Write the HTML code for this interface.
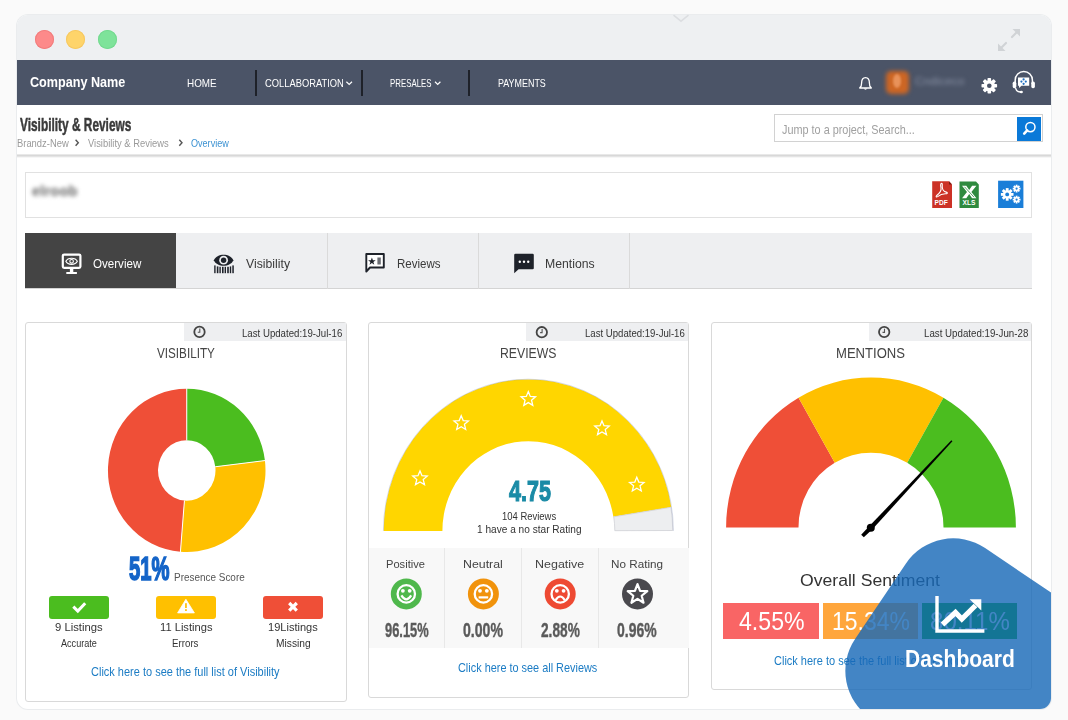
<!DOCTYPE html>
<html><head><meta charset="utf-8"><title>Visibility &amp; Reviews</title>
<style>
*{box-sizing:border-box;margin:0;padding:0}
html,body{width:1068px;height:720px;overflow:hidden;background:#fafafa;font-family:"Liberation Sans",Arial,sans-serif;color:#333;position:relative}
.a{position:absolute}
.t{position:absolute;line-height:1;white-space:nowrap;transform-origin:0 0;font-family:"Liberation Sans",Arial,sans-serif}
#win{position:absolute;left:17px;top:15px;width:1034px;height:694px;border-radius:11px;overflow:hidden;background:#fff;box-shadow:0 0 0 1px #eaecee}
.dot{position:absolute;width:19px;height:19px;border-radius:50%}
.sep{position:absolute;top:70px;width:2px;height:26px;background:#1e2129}
.card{position:absolute;background:#fff;border:1px solid #d9d9d9;border-radius:3px}
.strip{position:absolute;top:323px;height:18px;background:#eeeff1}
.btn{position:absolute;top:596px;width:60px;height:22.5px;border-radius:3px}
.tabsep{position:absolute;top:233px;width:1px;height:56px;background:#dadada}
.vsep{position:absolute;top:548px;width:1px;height:100px;background:#e8e8e8}
.pb{position:absolute;top:603px;width:95px;height:36px}
svg{position:absolute;overflow:visible}
</style></head><body>
<div id="win">
  <div class="a" style="left:0;top:0;width:100%;height:45px;background:#eef0f2"></div>
  <div class="dot" style="left:17.5px;top:14.5px;background:#fd8a8a;box-shadow:inset 0 0 0 1px #f17d7d"></div>
  <div class="dot" style="left:48.5px;top:14.5px;background:#fed46a;box-shadow:inset 0 0 0 1px #f6c862"></div>
  <div class="dot" style="left:80.5px;top:14.5px;background:#7ee39a;box-shadow:inset 0 0 0 1px #74d990"></div>
  <div class="a" style="left:0;top:139px;width:100%;height:4px;background:linear-gradient(#e8e8e8 0 25%,#d8d8d8 25% 50%,#e4e4e4 50% 75%,#f6f6f6 75%)"></div>
</div>
<svg style="left:668px;top:14px" width="26" height="12" viewBox="668 14 26 12"><path d="M673.5,15.2 L681,21.2 L688.5,15.2" fill="none" stroke="#dcdee1" stroke-width="1.5"/></svg>
<!-- title bar expand icon -->
<svg style="left:995px;top:26px" width="28" height="28" viewBox="0 0 28 28">
  <g stroke="#d0d3d6" stroke-width="2.2" fill="none" stroke-linecap="round">
    <path d="M5,23 L11,17"/><path d="M17,11 L23,5"/>
  </g>
  <path d="M3,25 L3,17.5 L10.5,25 Z" fill="#d0d3d6"/>
  <path d="M25,3 L25,10.5 L17.5,3 Z" fill="#d0d3d6"/>
</svg>
<!-- nav -->
<div class="a" style="left:17px;top:60px;width:1034px;height:45px;background:#4b5467"></div>
<div class="sep" style="left:254.5px"></div>
<div class="sep" style="left:361.2px"></div>
<div class="sep" style="left:468px"></div>
<svg style="left:0;top:0" width="1068" height="120" viewBox="0 0 1068 120">
  <g stroke="#fff" stroke-width="1.2" fill="none">
    <path d="M346.4,81.8 L349.2,84.4 L352,81.8"/>
    <path d="M435,81.8 L437.7,84.4 L440.4,81.8"/>
  </g>
  <!-- bell -->
  <path d="M865.5,77.6 C862.3,77.6 861.6,80.5 861.6,83 L861.2,86 L859.7,88 L871.3,88 L869.8,86 L869.4,83 C869.4,80.5 868.7,77.6 865.5,77.6 Z" fill="none" stroke="#fff" stroke-width="1.3" stroke-linejoin="round"/>
  <path d="M863.8,88.6 A1.8,1.6 0 0 0 867.2,88.6 Z" fill="#fff"/>
  <!-- gear -->
  <g transform="translate(989.3,85.8)">
    <g fill="#fff">
      <circle r="5.6"/>
      <rect x="-1.8" y="-7.8" width="3.6" height="15.6" rx="0.8"/>
      <rect x="-1.8" y="-7.8" width="3.6" height="15.6" rx="0.8" transform="rotate(45)"/>
      <rect x="-1.8" y="-7.8" width="3.6" height="15.6" rx="0.8" transform="rotate(90)"/>
      <rect x="-1.8" y="-7.8" width="3.6" height="15.6" rx="0.8" transform="rotate(135)"/>
    </g>
    <circle r="2.3" fill="#4b5467"/>
  </g>
  <!-- headset -->
  <g>
    <path d="M1015.2,84 L1015.2,80 A8.6,8.6 0 0 1 1032.4,80 L1032.4,84" fill="none" stroke="#fff" stroke-width="1.5"/>
    <rect x="1012.7" y="81.6" width="3.6" height="6.6" rx="1.6" fill="#fff"/>
    <rect x="1031.3" y="81.6" width="3.6" height="6.6" rx="1.6" fill="#fff"/>
    <path d="M1015.5,88 Q1016.5,92 1020.5,92" fill="none" stroke="#fff" stroke-width="1.3"/>
    <ellipse cx="1021.3" cy="92" rx="1.6" ry="1.2" fill="#fff"/>
    <path d="M1018,77.6 L1029.2,77.6 L1029.2,85.8 L1021.5,85.8 L1019,88 L1019,85.8 L1018,85.8 Z" fill="#fff"/>
    <g fill="#1f6fc0"><circle cx="1023.6" cy="79.4" r="1.1"/><circle cx="1021.4" cy="81.6" r="1.1"/><circle cx="1025.8" cy="81.6" r="1.1"/><circle cx="1023.6" cy="83.8" r="1.1"/></g>
  </g>
</svg>
<!-- avatar & blurred user name -->
<div class="a" style="left:885.5px;top:71px;width:23.5px;height:23px;background:#cd6624;border-radius:5px;filter:blur(2.2px)"></div>
<div class="a" style="left:892.8px;top:74px;width:8.6px;height:14px;background:#e8925a;border-radius:50%;filter:blur(1px)"></div>
<div class="a" style="left:915px;top:75.5px;font-size:11.5px;color:#8a93a6;filter:blur(2.2px);line-height:1;letter-spacing:0.2px">Cndiceco</div>
<!-- header -->
<div class="a" style="left:773.5px;top:114.4px;width:269.6px;height:27.8px;border:1px solid #d2d2d2;background:#fff"></div>
<div class="a" style="left:1016.6px;top:116.8px;width:24.7px;height:23.9px;background:#0a79d8"></div>
<svg style="left:1016px;top:116px" width="26" height="25" viewBox="1016 116 26 25">
  <circle cx="1030.4" cy="127.1" r="4.6" fill="none" stroke="#fff" stroke-width="1.5"/>
  <path d="M1027.2,130.4 L1024.2,133.6" stroke="#fff" stroke-width="2.6" stroke-linecap="round"/>
</svg>
<svg style="left:0;top:0" width="300" height="160" viewBox="0 0 300 160">
  <g stroke="#555" stroke-width="1.4" fill="none"><path d="M75.6,139.8 L78.3,142.8 L75.6,145.8"/><path d="M179.3,139.8 L182,142.8 L179.3,145.8"/></g>
</svg>
<!-- client box -->
<div class="a" style="left:25px;top:172px;width:1007px;height:46px;border:1px solid #e1e1e1;background:#fff"></div>
<div class="a" style="left:32px;top:184px;font-size:14.5px;font-weight:bold;color:#666;filter:blur(2.2px);line-height:1;letter-spacing:0.2px">elroob</div>
<svg style="left:925px;top:175px" width="110" height="40" viewBox="925 175 110 40">
  <!-- PDF -->
  <path d="M932.2,181.2 L949,181.2 L952,184.4 L952,208 L932.2,208 Z" fill="#cc3226"/>
  <path d="M949,181.2 L952,184.4 L949,184.4 Z" fill="#7a1a12"/>
  <path d="M941.6,183.4 C940.4,183.4 940.5,185.6 941,187.6 C941.5,190.2 939.6,193.2 937,195.3 C935.5,196.5 936.1,197.7 937.6,196.6 C939.6,195 942.6,193.8 945.3,193.8 C947.5,193.8 948.1,192.6 946.2,192.1 C944,191.6 942.5,189.8 942.3,187.2 C942.1,185.1 942.7,183.4 941.6,183.4 Z" fill="none" stroke="#fff" stroke-width="1.1"/>
  <!-- XLS -->
  <path d="M959.5,181.5 L976,181.5 L978.8,184.4 L978.8,208 L959.5,208 Z" fill="#2f8a3f"/>
  <path d="M962,185.8 L966.3,185.8 L969.2,190 L972.1,185.8 L976.4,185.8 L971.4,192 L976.4,198.2 L972.1,198.2 L969.2,194 L966.3,198.2 L962,198.2 L967,192 Z" fill="#fff"/>
  <path d="M964.5,186.8 L974,197.2" stroke="#2f8a3f" stroke-width="0.8"/>
  <!-- gear box -->
  <rect x="998.1" y="180.7" width="25.3" height="27.3" fill="#1a7ed8"/>
  <g fill="#fff" transform="translate(1007.2,194.4)">
    <circle r="4.2"/>
    <rect x="-1.4" y="-6.3" width="2.8" height="12.6"/><rect x="-1.4" y="-6.3" width="2.8" height="12.6" transform="rotate(45)"/>
    <rect x="-1.4" y="-6.3" width="2.8" height="12.6" transform="rotate(90)"/><rect x="-1.4" y="-6.3" width="2.8" height="12.6" transform="rotate(135)"/>
  </g>
  <circle cx="1007.2" cy="194.4" r="1.9" fill="#1a7ed8"/>
  <g fill="#fff" transform="translate(1016.6,188.6)">
    <circle r="2.6"/>
    <rect x="-0.9" y="-3.9" width="1.8" height="7.8"/><rect x="-0.9" y="-3.9" width="1.8" height="7.8" transform="rotate(45)"/>
    <rect x="-0.9" y="-3.9" width="1.8" height="7.8" transform="rotate(90)"/><rect x="-0.9" y="-3.9" width="1.8" height="7.8" transform="rotate(135)"/>
  </g>
  <circle cx="1016.6" cy="188.6" r="1.1" fill="#1a7ed8"/>
  <g fill="#fff" transform="translate(1016.6,199.6)">
    <circle r="2.6"/>
    <rect x="-0.9" y="-3.9" width="1.8" height="7.8"/><rect x="-0.9" y="-3.9" width="1.8" height="7.8" transform="rotate(45)"/>
    <rect x="-0.9" y="-3.9" width="1.8" height="7.8" transform="rotate(90)"/><rect x="-0.9" y="-3.9" width="1.8" height="7.8" transform="rotate(135)"/>
  </g>
  <circle cx="1016.6" cy="199.6" r="1.1" fill="#1a7ed8"/>
</svg>
<div class="t" style="left:934.4px;top:200.2px;font-size:6.6px;font-weight:bold;color:#fff;letter-spacing:0.1px">PDF</div>
<div class="t" style="left:962.4px;top:200.2px;font-size:6.6px;font-weight:bold;color:#fff;letter-spacing:0.1px">XLS</div>
<!-- tabs -->
<div class="a" style="left:25px;top:233px;width:1007px;height:56px;background:#eeeff1;border-bottom:1px solid #d4d4d4"></div>
<div class="a" style="left:25px;top:233px;width:151px;height:55px;background:#444"></div>
<div class="tabsep" style="left:326.5px"></div>
<div class="tabsep" style="left:477.5px"></div>
<div class="tabsep" style="left:628.5px"></div>
<svg style="left:0;top:240px" width="600" height="40" viewBox="0 240 600 40">
  <!-- overview monitor -->
  <rect x="62.8" y="254.6" width="17.6" height="13.2" rx="1.3" fill="none" stroke="#fff" stroke-width="2.2"/>
  <rect x="69.9" y="268.5" width="3.4" height="4" fill="#fff"/>
  <rect x="66.3" y="272" width="10.6" height="2" fill="#fff"/>
  <path d="M65.9,261.3 C67.8,257.2 75.4,257.2 77.3,261.3 C75.4,265.4 67.8,265.4 65.9,261.3 Z" fill="none" stroke="#fff" stroke-width="1.2"/>
  <circle cx="71.6" cy="261.3" r="1.8" fill="none" stroke="#fff" stroke-width="1.1"/>
  <!-- visibility eye barcode -->
  <path d="M213.9,260.3 C216.5,252.8 230.7,252.8 233.3,260.3 C230.7,267.6 216.5,267.6 213.9,260.3 Z" fill="#1e222a"/>
  <circle cx="223.6" cy="260.2" r="4.4" fill="#eeeff1"/>
  <circle cx="223.6" cy="260.2" r="2.7" fill="#1e222a"/>
  <g fill="#1e222a"><rect x="214.2" y="265.4" width="1.4" height="7.8"/><rect x="216.8" y="266.4" width="1.6" height="6.8"/><rect x="219.4" y="266.8" width="1.4" height="6.4"/><rect x="222" y="266.8" width="1.6" height="6.4"/><rect x="224.6" y="266.8" width="1.4" height="6.4"/><rect x="227.2" y="266.8" width="1.6" height="6.4"/><rect x="229.8" y="266.4" width="1.4" height="6.8"/><rect x="232.3" y="265.4" width="1.5" height="7.8"/></g>
  <!-- reviews bubble -->
  <path d="M366.3,254 L383.8,254 L383.8,267.5 L370,267.5 L366.3,271.5 Z" fill="#fff" stroke="#1e222a" stroke-width="1.9" stroke-linejoin="round"/>
  <path d="M371.9,257.6 L372.9,260.3 L375.7,260.3 L373.4,262 L374.3,264.8 L371.9,263.1 L369.5,264.8 L370.4,262 L368.1,260.3 L370.9,260.3 Z" fill="#1e222a"/>
  <rect x="377.4" y="257.5" width="3.4" height="7" fill="#6a6d73"/>
  <!-- mentions bubble -->
  <path d="M515.5,253.8 L532.6,253.8 Q533.8,253.8 533.8,255 L533.8,268.2 Q533.8,269.3 532.6,269.3 L518.6,269.3 L514.2,273.2 L514.2,255 Q514.2,253.8 515.5,253.8 Z" fill="#1e222a"/>
  <g fill="#fff"><circle cx="519.8" cy="261.8" r="1.2"/><circle cx="524" cy="261.8" r="1.2"/><circle cx="528.2" cy="261.8" r="1.2"/></g>
</svg>
<!-- cards -->
<div class="card" style="left:25px;top:322px;width:322px;height:380px"></div>
<div class="card" style="left:368px;top:322px;width:321px;height:376px"></div>
<div class="card" style="left:711px;top:322px;width:321px;height:368px"></div>
<div class="strip" style="left:184px;width:162px"></div>
<div class="strip" style="left:526.4px;width:162px"></div>
<div class="strip" style="left:869px;width:162px"></div>
<svg style="left:0;top:320px" width="1068" height="25" viewBox="0 320 1068 25">
  <g fill="none" stroke="#444" stroke-width="1.8">
    <circle cx="199.5" cy="331.9" r="5.2"/><circle cx="541.8" cy="332.2" r="5.2"/><circle cx="884.2" cy="332" r="5.2"/>
  </g>
  <g fill="none" stroke="#555" stroke-width="1.1">
    <path d="M199.8,328.6 L199.8,332.3 L197.8,332.3"/><path d="M542.1,328.9 L542.1,332.6 L540.1,332.6"/><path d="M884.5,328.7 L884.5,332.4 L882.5,332.4"/>
  </g>
</svg>
<!-- card1 buttons -->
<div class="btn" style="left:49.1px;width:59.8px;background:#4bbd1f"></div>
<div class="btn" style="left:156.4px;width:59.7px;background:#ffc000"></div>
<div class="btn" style="left:263px;width:59.9px;background:#ef4f37"></div>
<svg style="left:40px;top:590px" width="300" height="35" viewBox="40 590 300 35">
  <path d="M73.3,606.6 L77.8,611 L85.2,603.3" fill="none" stroke="#fff" stroke-width="3"/>
  <path d="M185.9,599.3 L194.4,612.9 L177.6,612.9 Z" fill="#fff" stroke="#fff" stroke-width="0.8" stroke-linejoin="round"/>
  <rect x="185.1" y="603.2" width="1.7" height="4.8" fill="#ffc000"/>
  <rect x="185.1" y="609.2" width="1.7" height="1.8" fill="#ffc000"/>
  <path d="M289.2,603 L296.8,610.6 M296.8,603 L289.2,610.6" stroke="#fff" stroke-width="3.2"/>
</svg>
<!-- card2 stats -->
<div class="a" style="left:369px;top:547.5px;width:319.5px;height:100px;background:#f8f8f8"></div>
<div class="vsep" style="left:444px"></div>
<div class="vsep" style="left:521px"></div>
<div class="vsep" style="left:598px"></div>
<svg style="left:380px;top:570px" width="280" height="50" viewBox="380 570 280 50">
  <circle cx="406.3" cy="593.9" r="15.5" fill="#4fb84c"/>
  <circle cx="483.4" cy="593.9" r="15.5" fill="#f1930c"/>
  <circle cx="560.2" cy="593.9" r="15.5" fill="#ee4a33"/>
  <circle cx="637.5" cy="593.9" r="15.5" fill="#4a494e"/>
  <g fill="none" stroke="#fff" stroke-width="2.3">
    <circle cx="406.3" cy="593.9" r="8.7"/><circle cx="483.4" cy="593.9" r="8.7"/><circle cx="560.2" cy="593.9" r="8.7"/>
  </g>
  <g fill="#fff">
    <circle cx="402.9" cy="590.8" r="1.9"/><circle cx="409.7" cy="590.8" r="1.9"/>
    <circle cx="480" cy="590.8" r="1.9"/><circle cx="486.8" cy="590.8" r="1.9"/>
    <circle cx="556.8" cy="590.8" r="1.9"/><circle cx="563.6" cy="590.8" r="1.9"/>
  </g>
  <path d="M401.4,595.4 Q406.3,603.2 411.2,595.4" fill="none" stroke="#fff" stroke-width="2.2"/>
  <path d="M478.6,597.4 L488.2,597.4" stroke="#fff" stroke-width="2.2"/>
  <path d="M555.6,600.2 Q560.2,592.8 564.8,600.2" fill="none" stroke="#fff" stroke-width="2.2"/>
  <path d="M637.50,584.10 L640.09,590.84 L647.30,591.22 L641.68,595.76 L643.55,602.73 L637.50,598.80 L631.45,602.73 L633.32,595.76 L627.70,591.22 L634.91,590.84 Z" fill="none" stroke="#fff" stroke-width="2.2" stroke-linejoin="round"/>
</svg>
<!-- card3 pct boxes -->
<div class="pb" style="left:723.4px;width:95.7px;background:#f96565"></div>
<div class="pb" style="left:823px;width:94.7px;background:#ffa63c"></div>
<div class="pb" style="left:921.8px;width:95.6px;background:#00a800"></div>
<!-- charts -->
<svg style="left:0;top:0" width="1068" height="720" viewBox="0 0 1068 720">
<path fill="#4bbd1f" d="M186.75,388.8 A78.75,81.6 0 0 1 264.93,460.57 L215.29,466.76 A28.75,30.25 0 0 0 186.75,440.15 Z"/>
<path fill="#ffc000" d="M264.93,460.57 A78.75,81.6 0 0 1 180.43,551.74 L184.44,500.55 A28.75,30.25 0 0 0 215.29,466.76 Z"/>
<path fill="#ef4f37" d="M180.43,551.74 A78.75,81.6 0 0 1 186.75,388.8 L186.75,440.15 A28.75,30.25 0 0 0 184.44,500.55 Z"/>
<line x1="186.75" y1="387.8" x2="186.75" y2="440.15" stroke="#fff" stroke-width="1"/>
<line x1="265.92" y1="460.45" x2="215.29" y2="466.76" stroke="#fff" stroke-width="1"/>
<line x1="180.35" y1="552.73" x2="184.44" y2="500.55" stroke="#fff" stroke-width="1"/>
<path fill="#ffd600" d="M383.7,530.9 A144.7,151.5 0 0 1 671.32,507.2 L613.34,516.87 A86,89.7 0 0 0 442.4,530.9 Z"/>
<path fill="#edeef0" stroke="#cfd1d5" stroke-width="0.8" d="M670.92,507.26 A144.3,151.1 0 0 1 672.7,530.5 L614.8,530.66 A86.4,90.1 0 0 0 613.74,516.81 Z"/>
<path fill="none" stroke="rgba(140,150,185,0.45)" stroke-width="0.8" d="M383.4,530.9 A145,151.8 0 0 1 673.4,530.9"/>
<path fill="#ef4f37" d="M726.1,527.4 A144.9,149.8 0 0 1 798.55,397.67 L834.75,462.79 A72.5,74.6 0 0 0 798.5,527.4 Z"/>
<path fill="#ffc000" d="M798.55,397.67 A144.9,149.8 0 0 1 943.45,397.67 L907.25,462.79 A72.5,74.6 0 0 0 834.75,462.79 Z"/>
<path fill="#4bbd1f" d="M943.45,397.67 A144.9,149.8 0 0 1 1015.9,527.4 L943.5,527.4 A72.5,74.6 0 0 0 907.25,462.79 Z"/>
<path fill="none" stroke="#fff" stroke-width="1.3" stroke-linejoin="miter" d="M420,470.9 L422,475.75 L427.23,476.15 L423.23,479.55 L424.47,484.65 L420,481.9 L415.53,484.65 L416.77,479.55 L412.77,476.15 L418,475.75 Z"/>
<path fill="none" stroke="#fff" stroke-width="1.3" stroke-linejoin="miter" d="M461.2,415.7 L463.2,420.55 L468.43,420.95 L464.43,424.35 L465.67,429.45 L461.2,426.7 L456.73,429.45 L457.97,424.35 L453.97,420.95 L459.2,420.55 Z"/>
<path fill="none" stroke="#fff" stroke-width="1.3" stroke-linejoin="miter" d="M528.3,391.6 L530.3,396.45 L535.53,396.85 L531.53,400.25 L532.77,405.35 L528.3,402.6 L523.83,405.35 L525.07,400.25 L521.07,396.85 L526.3,396.45 Z"/>
<path fill="none" stroke="#fff" stroke-width="1.3" stroke-linejoin="miter" d="M602,420.9 L604,425.75 L609.23,426.15 L605.23,429.55 L606.47,434.65 L602,431.9 L597.53,434.65 L598.77,429.55 L594.77,426.15 L600,425.75 Z"/>
<path fill="none" stroke="#fff" stroke-width="1.3" stroke-linejoin="miter" d="M636.8,477.2 L638.8,482.05 L644.03,482.45 L640.03,485.85 L641.27,490.95 L636.8,488.2 L632.33,490.95 L633.57,485.85 L629.57,482.45 L634.8,482.05 Z"/>
<path fill="#000" d="M952.41,441.28 L872.41,529.3 L863.82,537.23 L861.18,534.77 L869.19,526.3 L951.39,440.32 Z"/>
<circle cx="870.8" cy="527.8" r="4" fill="#000"/>
</svg>
<!-- texts -->
<div class="t" style="left:30.35px;top:74.55px;font-weight:bold;font-size:14px;color:#fff;transform:scale(0.901,1.035)">Company Name</div>
<div class="t" style="left:187.06px;top:78.34px;font-weight:normal;font-size:10.5px;color:#fff;transform:scale(0.942,0.980)">HOME</div>
<div class="t" style="left:265.01px;top:78.34px;font-weight:normal;font-size:10.5px;color:#fff;transform:scale(0.891,0.980)">COLLABORATION</div>
<div class="t" style="left:390.35px;top:78.34px;font-weight:normal;font-size:10.5px;color:#fff;transform:scale(0.750,0.980)">PRESALES</div>
<div class="t" style="left:498.15px;top:78.34px;font-weight:normal;font-size:10.5px;color:#fff;transform:scale(0.851,0.980)">PAYMENTS</div>
<div class="t" style="left:20.10px;top:115.72px;font-weight:bold;font-size:18px;color:#3a3a3a;transform:scale(0.660,0.998);-webkit-text-stroke:0.5px #3a3a3a">Visibility &amp; Reviews</div>
<div class="t" style="left:17.01px;top:138.10px;font-weight:normal;font-size:10.5px;color:#9a9a9a;transform:scale(0.895,1.021)">Brandz-New</div>
<div class="t" style="left:88.20px;top:138.10px;font-weight:normal;font-size:10.5px;color:#9a9a9a;transform:scale(0.894,1.021)">Visibility &amp; Reviews</div>
<div class="t" style="left:191.14px;top:138.10px;font-weight:normal;font-size:10.5px;color:#3c92d2;transform:scale(0.863,1.021)">Overview</div>
<div class="t" style="left:781.90px;top:122.57px;font-weight:normal;font-size:12px;color:#a0a0a0;transform:scale(0.905,1.087)">Jump to a project, Search...</div>
<div class="t" style="left:92.77px;top:257.87px;font-weight:normal;font-size:12.5px;color:#fff;transform:scale(0.927,1.020)">Overview</div>
<div class="t" style="left:246.30px;top:257.87px;font-weight:normal;font-size:12.5px;color:#3a3a3a;transform:scale(0.980,1.020)">Visibility</div>
<div class="t" style="left:396.88px;top:257.87px;font-weight:normal;font-size:12.5px;color:#3a3a3a;transform:scale(0.924,1.020)">Reviews</div>
<div class="t" style="left:544.92px;top:257.87px;font-weight:normal;font-size:12.5px;color:#3a3a3a;transform:scale(0.980,1.020)">Mentions</div>
<div class="t" style="left:241.78px;top:327.71px;font-weight:normal;font-size:10.5px;color:#333;transform:scale(0.919,1.008)">Last Updated:19-Jul-16</div>
<div class="t" style="left:584.69px;top:327.63px;font-weight:normal;font-size:10.5px;color:#333;transform:scale(0.914,0.994)">Last Updated:19-Jul-16</div>
<div class="t" style="left:923.87px;top:327.63px;font-weight:normal;font-size:10.5px;color:#333;transform:scale(0.926,0.994)">Last Updated:19-Jun-28</div>
<div class="t" style="left:157.10px;top:345.07px;font-weight:normal;font-size:15px;color:#444;transform:scale(0.780,1.014)">VISIBILITY</div>
<div class="t" style="left:500.09px;top:345.07px;font-weight:normal;font-size:15px;color:#444;transform:scale(0.815,1.014)">REVIEWS</div>
<div class="t" style="left:836.03px;top:345.07px;font-weight:normal;font-size:15px;color:#444;transform:scale(0.872,1.014)">MENTIONS</div>
<div class="t" style="left:128.50px;top:550.66px;font-weight:bold;font-size:34px;color:#1464c8;transform:scale(0.596,0.988);-webkit-text-stroke:1.6px #1464c8">51%</div>
<div class="t" style="left:174.45px;top:571.91px;font-weight:normal;font-size:10.5px;color:#555;transform:scale(0.947,1.008)">Presence Score</div>
<div class="t" style="left:54.67px;top:622.05px;font-weight:normal;font-size:11px;color:#333;transform:scale(1.027,0.988)">9 Listings</div>
<div class="t" style="left:159.59px;top:622.05px;font-weight:normal;font-size:11px;color:#333;transform:scale(1.014,0.988)">11 Listings</div>
<div class="t" style="left:267.80px;top:622.40px;font-weight:normal;font-size:11px;color:#333;transform:scale(1.004,0.949)">19Listings</div>
<div class="t" style="left:61.40px;top:638.67px;font-weight:normal;font-size:10px;color:#333;transform:scale(0.910,1.029)">Accurate</div>
<div class="t" style="left:172.43px;top:638.67px;font-weight:normal;font-size:10px;color:#333;transform:scale(0.973,1.029)">Errors</div>
<div class="t" style="left:275.68px;top:638.90px;font-weight:normal;font-size:10px;color:#333;transform:scale(1.022,1.000)">Missing</div>
<div class="t" style="left:91.18px;top:665.76px;font-weight:normal;font-size:12px;color:#1c7cc4;transform:scale(0.916,1.014)">Click here to see the full list of Visibility</div>
<div class="t" style="left:509.00px;top:476.04px;font-weight:bold;font-size:30px;color:#1a8ba6;transform:scale(0.717,0.991);-webkit-text-stroke:1.2px #1a8ba6">4.75</div>
<div class="t" style="left:501.80px;top:510.91px;font-weight:normal;font-size:10.5px;color:#333;transform:scale(0.900,1.008)">104 Reviews</div>
<div class="t" style="left:476.54px;top:523.31px;font-weight:normal;font-size:10.5px;color:#333;transform:scale(0.963,1.104)">1 have a no star Rating</div>
<div class="t" style="left:386.43px;top:559.25px;font-weight:normal;font-size:11.5px;color:#444;transform:scale(0.967,1.008)">Positive</div>
<div class="t" style="left:463.43px;top:559.25px;font-weight:normal;font-size:11.5px;color:#444;transform:scale(1.074,1.008)">Neutral</div>
<div class="t" style="left:535.21px;top:559.25px;font-weight:normal;font-size:11.5px;color:#444;transform:scale(1.086,1.008)">Negative</div>
<div class="t" style="left:610.88px;top:559.25px;font-weight:normal;font-size:11.5px;color:#444;transform:scale(1.018,1.008)">No Rating</div>
<div class="t" style="left:385.10px;top:621.31px;font-weight:bold;font-size:19px;color:#5a5a5a;transform:scale(0.677,1.031);-webkit-text-stroke:0.4px #5a5a5a">96.15%</div>
<div class="t" style="left:463.06px;top:621.31px;font-weight:bold;font-size:19px;color:#5a5a5a;transform:scale(0.742,1.031);-webkit-text-stroke:0.4px #5a5a5a">0.00%</div>
<div class="t" style="left:540.70px;top:621.31px;font-weight:bold;font-size:19px;color:#5a5a5a;transform:scale(0.720,1.031);-webkit-text-stroke:0.4px #5a5a5a">2.88%</div>
<div class="t" style="left:617.17px;top:621.31px;font-weight:bold;font-size:19px;color:#5a5a5a;transform:scale(0.734,1.031);-webkit-text-stroke:0.4px #5a5a5a">0.96%</div>
<div class="t" style="left:458.09px;top:662.08px;font-weight:normal;font-size:12px;color:#1c7cc4;transform:scale(0.908,1.002)">Click here to see all Reviews</div>
<div class="t" style="left:800.33px;top:571.56px;font-weight:normal;font-size:16.5px;color:#333;transform:scale(1.067,1.001)">Overall Sentiment</div>
<div class="t" style="left:738.88px;top:608.53px;font-weight:normal;font-size:25px;color:#fff;transform:scale(0.925,1.020)">4.55%</div>
<div class="t" style="left:832.36px;top:608.53px;font-weight:normal;font-size:25px;color:#fff;transform:scale(0.918,1.020)">15.34%</div>
<div class="t" style="left:929.94px;top:608.53px;font-weight:normal;font-size:25px;color:#fff;transform:scale(0.962,1.020)">80.11%</div>
<div class="t" style="left:773.58px;top:654.54px;font-weight:normal;font-size:12px;color:#1c7cc4;transform:scale(0.916,1.027)">Click here to see the full list of Mentions</div>
<!-- dashboard blob -->
<div class="a" style="left:17px;top:15px;width:1034px;height:694px;border-radius:11px;overflow:hidden">
  <div class="a" style="left:845.5px;top:540.5px;width:205px;height:205px;border-radius:57px;background:rgba(24,105,183,0.81);transform:rotate(34deg)"></div>
</div>
<svg style="left:930px;top:590px" width="60" height="46" viewBox="930 590 60 46">
  <path d="M937,596 V631 H984.4" fill="none" stroke="#fff" stroke-width="3.4"/>
  <path d="M942.5,624.5 L955.5,612.5 L961.8,619 L975.5,605.5" fill="none" stroke="#fff" stroke-width="5.2" stroke-linejoin="miter"/>
  <path d="M969.6,599.3 L981.3,599.3 L981.3,610.5 Z" fill="#fff"/>
</svg>
<div class="t" style="left:904.57px;top:647.26px;font-weight:bold;font-size:23px;color:#fff;transform:scale(0.914,1.052)">Dashboard</div>
</body></html>
